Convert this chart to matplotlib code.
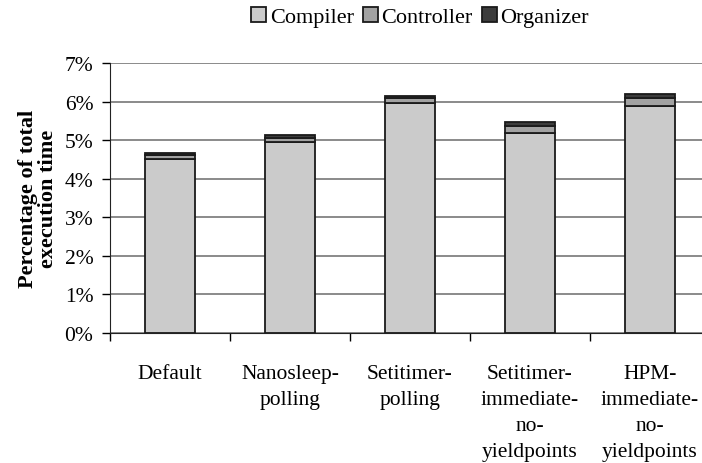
import matplotlib
matplotlib.use("Agg")
import matplotlib.pyplot as plt
import numpy as np
from matplotlib.ticker import FixedLocator, PercentFormatter

categories = ["Default", "Nanosleep-\npolling", "Setitimer-\npolling",
              "Setitimer-\nimmediate-\nno-\nyieldpoints", "HPM-\nimmediate-\nno-\nyieldpoints"]
compiler = [4.52, 4.96, 5.96, 5.20, 5.90]
controller = [0.09, 0.11, 0.13, 0.18, 0.21]
organizer = [0.05, 0.06, 0.06, 0.09, 0.10]
series_names = ["Compiler", "Controller", "Organizer"]
colors = ["#cbcbcb", "#a2a2a2", "#3c3c3c"]

plt.rcParams['font.family'] = ['Liberation Serif', 'DejaVu Serif']
fig = plt.figure(figsize=(7.02, 4.64), dpi=100)
ax = fig.add_axes([110/702, 130/464, 600/702, 269.7/464])

x = np.arange(len(categories))
w = 0.41
bottom = np.zeros(len(categories))
for vals, name, c in zip([compiler, controller, organizer], series_names, colors):
    ax.bar(x, vals, w, bottom=bottom, color=c, edgecolor="#1a1a1a", linewidth=1.3,
           label=name, zorder=3)
    bottom += np.array(vals)

ax.set_xlim(-0.5, len(categories) - 0.5)
ax.set_ylim(0, 7)
ax.set_yticks(np.arange(0, 8, 1))
ax.yaxis.set_major_formatter(PercentFormatter(decimals=0))
ax.yaxis.grid(True, color="#777777", linewidth=1.2, zorder=0)
ax.set_axisbelow(True)
ax.set_xticks(x)
ax.set_xticklabels(categories, fontsize=15.5, linespacing=1.5, va="top")
ax.xaxis.set_minor_locator(FixedLocator(np.arange(-0.5, len(categories), 1)))
ax.tick_params(axis="x", which="major", length=0, pad=22)
ax.tick_params(axis="x", which="minor", length=6, width=1, direction="out")
ax.tick_params(axis="y", labelsize=15.5, length=6, width=1, direction="out", pad=6)
for s in ["top", "right"]:
    ax.spines[s].set_visible(False)
ax.spines["left"].set_color("#222222")
ax.spines["bottom"].set_color("#222222")

ax.set_ylabel("Percentage of total\nexecution time", fontsize=16, fontweight="bold",
              linespacing=1.0, labelpad=5)

fig.legend(loc="center", bbox_to_anchor=(420/702, 1 - 18/464), ncol=3, frameon=False,
           fontsize=16, handlelength=0.7, handleheight=0.7, handletextpad=0.15,
           columnspacing=0.4, borderpad=0)

fig.savefig("out.png", dpi=100)
